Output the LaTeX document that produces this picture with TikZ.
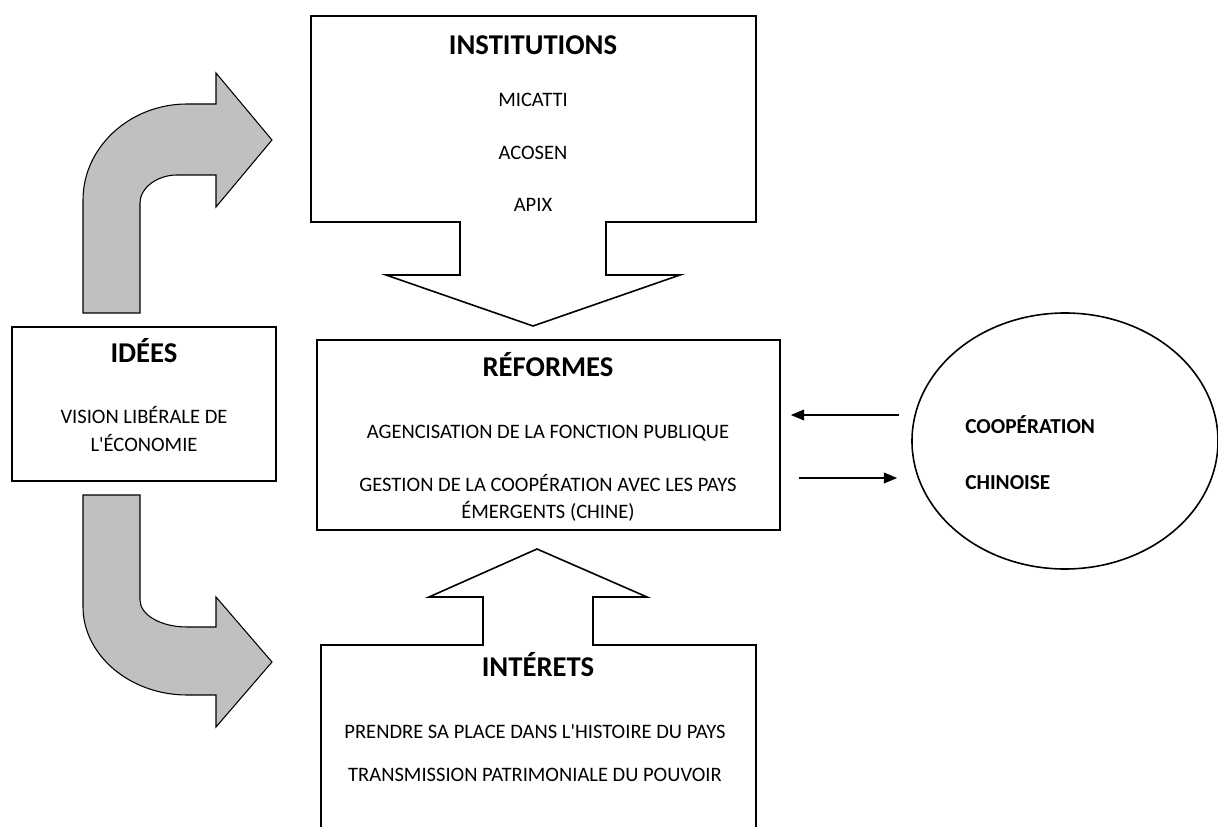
\documentclass[tikz,border=0pt]{standalone}
\usepackage{fontspec}
\setmainfont{Carlito}
\usetikzlibrary{arrows.meta,calc,shapes.geometric}
\definecolor{arrowgray}{HTML}{C0C0C0}
\tikzset{
  boxline/.style={draw=black,line width=1.2pt},
  frame/.style={boxline,rectangle,inner sep=0pt},
  bentarrow/.style={draw=black,line width=0.8pt,fill=arrowgray,line join=miter},
  txt/.style={font=\fontsize{15.4}{18}\selectfont,text height=9.9pt,text depth=0pt,inner sep=0pt},
  head/.style={font=\bfseries\fontsize{21.5}{25}\selectfont,text height=13.8pt,text depth=0pt,inner sep=0pt},
  cooptxt/.style={font=\bfseries\fontsize{16}{19}\selectfont,text height=10.3pt,text depth=0pt,inner sep=0pt,anchor=west},
  flow/.style={line width=1.2pt,-{Triangle[length=10pt,width=8pt]}}
}
\begin{document}
\begin{tikzpicture}[x=0.75pt,y=-0.75pt]
\useasboundingbox (0,0) rectangle (1218,827);
\begin{scope}
\clip (0,0) rectangle (1218,827);

% curved arrow going up and right
\path[bentarrow] (83,313) -- (83,200)
  .. controls (83,147) and (130,104) .. (187,104)
  -- (216,104) -- (216,73) -- (272,140) -- (216,207) -- (216,175) -- (177,175)
  .. controls (157,175) and (140,188) .. (140,203)
  -- (140,313) -- cycle;

% curved arrow going down and right
\path[bentarrow] (83,495) -- (140,495) -- (140,600)
  .. controls (140,615) and (161,627) .. (187,627)
  -- (216,627) -- (216,597) -- (272,662) -- (216,727) -- (216,695) -- (187,695)
  .. controls (130,695) and (83,655) .. (83,607)
  -- cycle;

% institutions callout pointing down
\path[boxline,line join=miter] (311,16) -- (756,16) -- (756,222) -- (606,222) -- (606,275)
  -- (680,275) -- (533,326) -- (386,275) -- (460,275) -- (460,222) -- (311,222) -- cycle;
\node[head] (instT) at (533,45) {INSTITUTIONS};
\node[txt] (inst1) at (533,100) {MICATTI};
\node[txt] (inst2) at (533,153) {ACOSEN};
\node[txt] (inst3) at (533,205) {APIX};

% interests callout pointing up
\path[boxline,line join=miter] (321,850) -- (321,645) -- (483,645) -- (483,597) -- (429,597)
  -- (537,549) -- (647,597) -- (593,597) -- (593,645) -- (756,645) -- (756,850);
\node[head] (intT) at (538,667) {INTÉRETS};
\node[txt] (int1) at (535,732) {PRENDRE SA PLACE DANS L\textquotesingle HISTOIRE DU PAYS};
\node[txt] (int2) at (535,775) {TRANSMISSION PATRIMONIALE DU POUVOIR};
\end{scope}

% ideas box
\node[frame,minimum width=264*0.75pt,minimum height=154*0.75pt] (idees) at (144,404) {};
\node[head] (ideesT) at (144,353) {IDÉES};
\node[txt] (idees1) at (144,417) {VISION LIBÉRALE DE};
\node[txt] (idees2) at (144,445) {L\textquotesingle ÉCONOMIE};

% reforms box
\node[frame,minimum width=463*0.75pt,minimum height=190*0.75pt] (reform) at (548.5,435) {};
\node[head] (refT) at (548,367) {RÉFORMES};
\node[txt] (ref1) at (548,432) {AGENCISATION DE LA FONCTION PUBLIQUE};
\node[txt] (ref2) at (548,485) {GESTION DE LA COOPÉRATION AVEC LES PAYS};
\node[txt] (ref3) at (548,512) {ÉMERGENTS (CHINE)};

% chinese cooperation ellipse
\node[draw=black,line width=1.2pt,ellipse,inner sep=0pt,minimum width=306*0.75pt,minimum height=256*0.75pt] (coop) at (1065,441) {};
\node[cooptxt] (coop1) at (965,427) {COOPÉRATION};
\node[cooptxt] (coop2) at (965,483) {CHINOISE};

% exchanges between reforms and cooperation
\draw[flow] ($(coop.west)+(-12,-26)$) -- ($(reform.east)+(10,-20)$);
\draw[flow] ($(reform.east)+(18,43)$) -- ($(coop.west)+(-14,37)$);
\end{tikzpicture}
\end{document}
